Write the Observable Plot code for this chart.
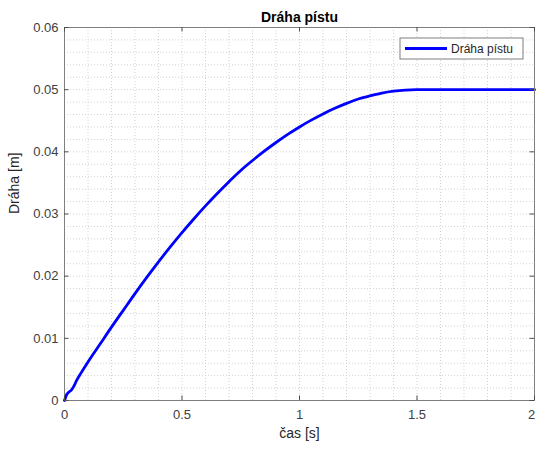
<!DOCTYPE html>
<html>
<head>
<meta charset="utf-8">
<script src="https://cdn.jsdelivr.net/npm/d3@7"></script>
<script src="https://cdn.jsdelivr.net/npm/@observablehq/plot@0.6"></script>
<style>
  html, body { margin: 0; padding: 0; background: #fff; }
  #chart { width: 536px; height: 449px; }
</style>
</head>
<body>
<div id="chart"></div>
<script>
const titleText = "Dráha pístu";
const xLabel = "čas [s]";
const yLabel = "Dráha [m]";
const seriesName = "Dráha pístu";

const time = [0, 0.01, 0.02, 0.03, 0.04, 0.05, 0.07, 0.1, 0.15, 0.2, 0.25, 0.3, 0.35, 0.4, 0.45, 0.5,
  0.55, 0.6, 0.65, 0.7, 0.75, 0.8, 0.85, 0.9, 0.95, 1.0, 1.05, 1.1, 1.15, 1.2, 1.25, 1.3,
  1.35, 1.4, 1.45, 1.5, 1.55, 1.6, 1.7, 1.8, 1.9, 2.0];
const position = [0, 0.0010, 0.0014, 0.0017, 0.0023, 0.0031, 0.0044, 0.0062, 0.0090, 0.0118, 0.0145, 0.0172, 0.0198, 0.0223, 0.0247, 0.0270,
  0.0292, 0.0313, 0.0333, 0.0352, 0.0370, 0.0386, 0.0401, 0.0415, 0.0428, 0.0440, 0.0451, 0.0461, 0.0470, 0.0478, 0.0485, 0.0490,
  0.04945, 0.04976, 0.04994, 0.0500, 0.0500, 0.0500, 0.0500, 0.0500, 0.0500, 0.0500];

const xTicks = [0, 0.5, 1, 1.5, 2];
const yTicks = [0, 0.01, 0.02, 0.03, 0.04, 0.05, 0.06];
const xMinor = d3.range(0, 21).map(i => i / 10);
const yMinor = d3.range(0, 31).map(i => i / 500);

const data = time.map((t, i) => ({t, v: position[i]}));

const W = 536, H = 449;
const mL = 64, mR = 2, mT = 27, mB = 49;
const font = "'Liberation Sans', Arial, Helvetica, sans-serif";
const tickCol = "#4d4d4d";
const axisCol = "#7f7f7f";
const tickLenX = 0.06 * 4.5 / (H - mT - mB);
const tickLenY = 2 * 4.5 / (W - mL - mR);

const plot = Plot.plot({
  width: W,
  height: H,
  marginLeft: mL,
  marginRight: mR,
  marginTop: mT,
  marginBottom: mB,
  style: {fontFamily: font, fontSize: "13px", color: "#262626", background: "#fff"},
  x: {domain: [0, 2]},
  y: {domain: [0, 0.06]},
  marks: [
    Plot.ruleX(xMinor, {stroke: "#d2d2d2", strokeDasharray: "1,2", strokeWidth: 1}),
    Plot.ruleY(yMinor, {stroke: "#d2d2d2", strokeDasharray: "1,2", strokeWidth: 1}),
    Plot.line(data, {x: "t", y: "v", stroke: "#0000ff", strokeWidth: 2.8, curve: "monotone-x"}),
    Plot.frame({stroke: axisCol, strokeWidth: 1}),
    Plot.ruleX(xTicks, {y1: 0, y2: tickLenX, stroke: tickCol}),
    Plot.ruleX(xTicks, {y1: 0.06, y2: 0.06 - tickLenX, stroke: tickCol}),
    Plot.ruleY(yTicks, {x1: 0, x2: tickLenY, stroke: tickCol}),
    Plot.ruleY(yTicks, {x1: 2, x2: 2 - tickLenY, stroke: tickCol}),
    Plot.axisX({ticks: xTicks.slice(0, -1), tickSize: 0, tickPadding: 9, fontSize: 13, fill: "#404040",
      tickFormat: d => String(d), label: null}),
    Plot.axisX({ticks: xTicks.slice(-1), tickSize: 0, tickPadding: 9, fontSize: 13, fill: "#404040",
      tickFormat: d => String(d), label: null, dx: -3}),
    Plot.axisY({ticks: yTicks, tickSize: 0, tickPadding: 6, fontSize: 13, fill: "#404040",
      tickFormat: d => d3.format("~g")(d), label: null}),
    Plot.text([xLabel], {frameAnchor: "bottom", dy: 37, fontSize: 14, fill: "#262626", text: d => d}),
    Plot.text([yLabel], {frameAnchor: "left", dx: -50, rotate: -90, fontSize: 14, fill: "#262626", text: d => d}),
    Plot.text([titleText], {frameAnchor: "top", dy: -15, fontSize: 14, fontWeight: "bold", fill: "#000", text: d => d})
  ]
});

document.getElementById("chart").appendChild(plot);

// Legend (MATLAB-style box in the upper right)
const svg = d3.select(plot);
const lx = W - mR - 134, ly = mT + 11, lw = 123, lh = 21;
const g = svg.append("g");
g.append("rect").attr("x", lx).attr("y", ly).attr("width", lw).attr("height", lh)
  .attr("fill", "#fff").attr("stroke", "#7f7f7f").attr("stroke-width", 1);
g.append("line").attr("x1", lx + 5).attr("x2", lx + 47).attr("y1", ly + lh / 2).attr("y2", ly + lh / 2)
  .attr("stroke", "#0000ff").attr("stroke-width", 2.8);
g.append("text").attr("x", lx + 51).attr("y", ly + lh / 2).attr("dy", "0.35em")
  .attr("text-anchor", "start")
  .attr("font-family", font).attr("font-size", 12).attr("fill", "#262626").text(seriesName);
</script>
</body>
</html>
